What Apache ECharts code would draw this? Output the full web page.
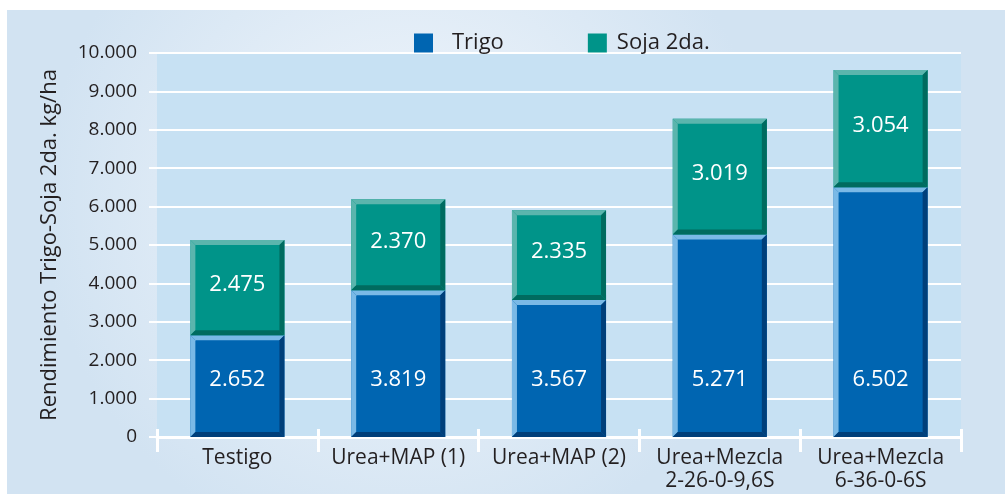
<!DOCTYPE html>
<html>
<head>
<meta charset="utf-8">
<script src="https://cdn.jsdelivr.net/npm/echarts@6/dist/echarts.min.js"></script>
<style>
  html, body { margin: 0; padding: 0; background: #fff; }
  #chart { width: 1005px; height: 494px; }
</style>
</head>
<body>
<div id="chart"></div>
<script>
// datos
const categories = ["Testigo", "Urea+MAP (1)", "Urea+MAP (2)", "Urea+Mezcla\n2-26-0-9,6S", "Urea+Mezcla\n6-36-0-6S"];
const trigo = [2652, 3819, 3567, 5271, 6502];
const soja = [2475, 2370, 2335, 3019, 3054];
const yTicks = [0, 1000, 2000, 3000, 4000, 5000, 6000, 7000, 8000, 9000, 10000];

const textColor = "#231f20";
const sans = '"Open Sans", "Noto Sans", sans-serif';
const narrow = '"Liberation Sans Narrow", "Open Sans", sans-serif';

// separador de miles con punto
function fmt(v) {
  return String(v).replace(/\B(?=(\d{3})+(?!\d))/g, ".");
}

// barra con bisel (luz arriba/izq, sombra abajo/der)
function bevelBar(main, light, dark, labelFromBottom) {
  return function (params, api) {
    const idx = api.value(0);
    const base = api.value(1);
    const val = api.value(2);
    const p0 = api.coord([idx, base]);
    const p1 = api.coord([idx, base + val]);
    const w = api.size([1, 0])[0] * 0.585;
    const x0 = p0[0] - w / 2, x1 = x0 + w;
    const yb = p0[1], yt = p1[1];
    const b = 5;
    const ly = labelFromBottom ? yb - 57 : (yt + yb) / 2 - 3;
    return {
      type: "group",
      children: [
        { type: "rect", shape: { x: x0, y: yt, width: w, height: yb - yt }, style: { fill: main } },
        { type: "polygon", shape: { points: [[x0, yt], [x1, yt], [x1 - b, yt + b], [x0 + b, yt + b]] }, style: { fill: light } },
        { type: "polygon", shape: { points: [[x0, yt], [x0 + b, yt + b], [x0 + b, yb - b], [x0, yb]] }, style: { fill: light } },
        { type: "polygon", shape: { points: [[x1, yt], [x1, yb], [x1 - b, yb - b], [x1 - b, yt + b]] }, style: { fill: dark } },
        { type: "polygon", shape: { points: [[x0, yb], [x0 + b, yb - b], [x1 - b, yb - b], [x1, yb]] }, style: { fill: dark } },
        { type: "text", style: { text: fmt(val), x: p0[0], y: ly, fill: "#fff", fontSize: 22, fontFamily: sans, align: "center", verticalAlign: "middle" } }
      ]
    };
  };
}

const chart = echarts.init(document.getElementById("chart"));

const option = {
  animation: false,
  graphic: [{
    type: "rect",
    z: -100,
    silent: true,
    shape: { x: 7, y: 10, width: 998, height: 484 },
    style: {
      fill: new echarts.graphic.RadialGradient(0.4, 0.4, 0.75, [
        { offset: 0, color: "#f3f7fc" },
        { offset: 1, color: "#d2e3f2" }
      ])
    }
  }],
  legend: {
    left: 409,
    top: 27,
    itemWidth: 19,
    itemHeight: 19,
    itemGap: 84,
    icon: "rect",
    textStyle: { color: textColor, fontSize: 22, fontFamily: sans },
    data: [
      { name: "Trigo", textStyle: { padding: [0, 0, 0, 14] } },
      { name: "Soja 2da.", textStyle: { padding: [0, 0, 0, 5] } }
    ]
  },
  grid: {
    left: 157, right: 44, top: 53, bottom: 57,
    show: true, backgroundColor: "#c7e1f3", borderWidth: 0,
    outerBoundsMode: "none"
  },
  xAxis: [{
    type: "category",
    data: categories,
    position: "bottom",
    axisLine: { lineStyle: { color: "#fff", width: 3 } },
    axisTick: { show: true, interval: 0, length: 15, lineStyle: { color: "#fff", width: 3 } },
    axisLabel: { interval: 0, margin: 10, color: textColor, fontSize: 21, lineHeight: 23, fontFamily: narrow }
  }, {
    type: "category",
    data: categories,
    position: "bottom",
    axisLine: { show: false },
    axisTick: { show: true, inside: true, interval: 0, length: 8, lineStyle: { color: "#fff", width: 3 } },
    axisLabel: { show: false }
  }],
  yAxis: {
    type: "value",
    min: yTicks[0],
    max: yTicks[yTicks.length - 1],
    interval: 1000,
    name: "Rendimiento Trigo-Soja 2da. kg/ha",
    nameLocation: "middle",
    nameGap: 96,
    nameTextStyle: { color: textColor, fontSize: 22, fontFamily: sans, padding: [0, 0, 0, 0] },
    axisLine: { show: false },
    axisTick: { show: true, length: 8, lineStyle: { color: "#fff", width: 2 } },
    axisLabel: { margin: 20, color: textColor, fontSize: 19, fontFamily: sans, formatter: fmt },
    splitLine: { lineStyle: { color: "#fff", width: 2 } }
  },
  series: [{
    name: "Trigo",
    type: "custom",
    itemStyle: { color: "#0065b1" },
    encode: { x: 0, y: [1, 2] },
    renderItem: bevelBar("#0065b1", "#7ab9e6", "#003f7a", true),
    data: categories.map((c, i) => [i, 0, trigo[i]])
  }, {
    name: "Soja 2da.",
    type: "custom",
    itemStyle: { color: "#009489" },
    encode: { x: 0, y: [1, 2] },
    renderItem: bevelBar("#009489", "#5bb5ad", "#006b5f", false),
    data: categories.map((c, i) => [i, trigo[i], soja[i]])
  }]
};

chart.setOption(option);
window.addEventListener("resize", () => chart.resize());
</script>
</body>
</html>
